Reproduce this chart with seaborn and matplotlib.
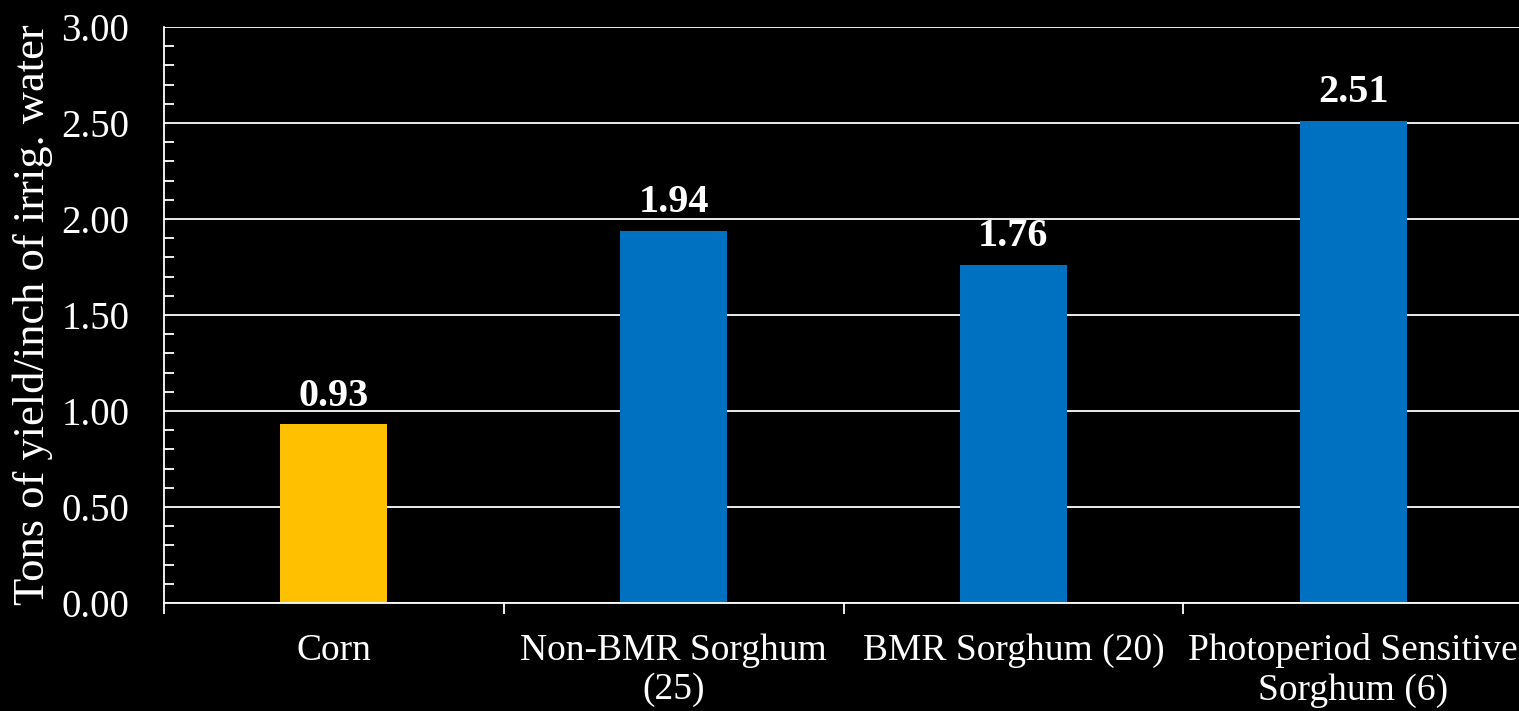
import matplotlib
matplotlib.use('Agg')
import matplotlib.pyplot as plt
from matplotlib.ticker import MultipleLocator, FixedLocator, FormatStrFormatter
import seaborn as sns
import pandas as pd

# Chart data
categories = ['Corn', 'Non-BMR Sorghum\n(25)', 'BMR Sorghum (20)', 'Photoperiod Sensitive\nSorghum (6)']
values = [0.93, 1.94, 1.76, 2.51]
bar_colors = ['#FFC000', '#0070C0', '#0070C0', '#0070C0']
y_label = 'Tons of yield/inch of irrig. water'

df = pd.DataFrame({'crop': categories, 'tons': values})

sns.set_style('dark')
plt.rcParams['font.family'] = ['Liberation Serif', 'DejaVu Serif']

fig = plt.figure(figsize=(15.19, 7.11), dpi=100, facecolor='black')
ax = fig.add_axes([0.108, 0.152, 0.8946, 0.810])
ax.set_facecolor('black')

sns.barplot(data=df, x='crop', y='tons', hue='crop', palette=bar_colors,
            legend=False, width=0.315, saturation=1, linewidth=0, ax=ax)

# value labels
for c in ax.containers:
    ax.bar_label(c, fmt='%.2f', padding=7, color='white', fontsize=29, fontweight='bold')

ax.set_xlim(-0.5, 3.5)
ax.set_ylim(0, 3.0)

# y axis ticks
ax.yaxis.set_major_locator(MultipleLocator(0.5))
ax.yaxis.set_minor_locator(MultipleLocator(0.1))
ax.yaxis.set_major_formatter(FormatStrFormatter('%.2f'))
ax.tick_params(axis='y', which='major', direction='out', length=8, width=1.3,
               color='white', labelcolor='white', labelsize=28, pad=17)
ax.tick_params(axis='y', which='minor', direction='in', length=7, width=1.3, color='white', left=True)

# x axis: labels at centres, separator ticks at boundaries
ax.set_xticks(range(len(categories)))
ax.set_xticklabels(categories)
ax.xaxis.set_minor_locator(FixedLocator([-0.5, 0.5, 1.5, 2.5, 3.5]))
ax.tick_params(axis='x', which='major', length=0, labelcolor='white', labelsize=27, pad=22)
ax.tick_params(axis='x', which='minor', direction='out', length=8, width=1.3, color='white', bottom=True)
for lbl in ax.get_xticklabels():
    lbl.set_linespacing(1.18)

ax.grid(axis='y', which='major', color='white', linewidth=1.3)
ax.grid(axis='x', visible=False)
ax.set_axisbelow(True)

for side in ['top', 'right']:
    ax.spines[side].set_visible(False)
for side in ['left', 'bottom']:
    ax.spines[side].set_visible(True)
    ax.spines[side].set_color('white')
    ax.spines[side].set_linewidth(1.3)

ax.set_xlabel('')
ax.set_ylabel(y_label, color='white', fontsize=32, labelpad=6)

fig.savefig('out.png', dpi=100, facecolor='black')
